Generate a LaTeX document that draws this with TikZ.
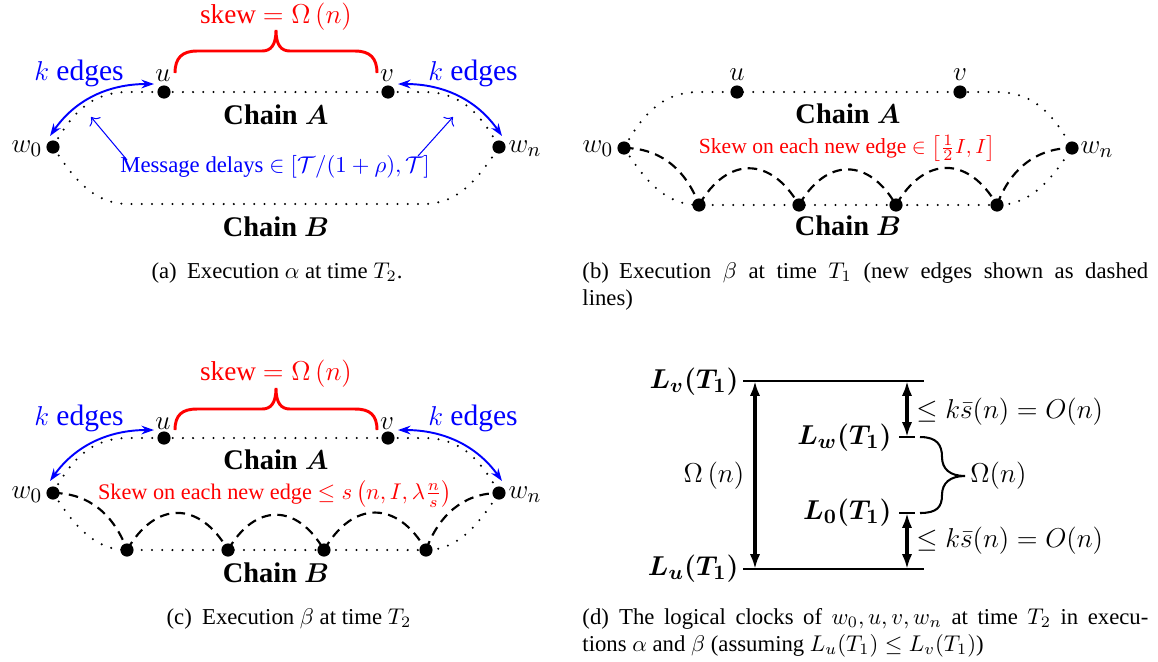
\documentclass[tikz,border=0pt]{standalone}
\usepackage[no-math]{fontspec}
\setmainfont{Liberation Serif}
\usepackage{amsmath,amssymb}
\usetikzlibrary{arrows.meta}
\tikzset{
  vtx/.style={circle,fill=black,inner sep=0pt,minimum size=5.8pt},
  chaindots/.style={line width=1pt,dash pattern=on 0pt off 4.5pt,line cap=round},
  newedge/.style={line width=0.95pt,dash pattern=on 4.2pt off 2.8pt},
  kedge/.style={blue,line width=0.85pt,{Stealth[length=5.5pt,width=3.8pt]}-{Stealth[length=5.5pt,width=3.8pt]}},
  delay/.style={blue,line width=0.45pt,-{To[length=3pt]}},
  bracered/.style={red,line width=1.3pt},
  lbl/.style={inner sep=0pt,font=\fontsize{12.5}{14}\selectfont},
  skewlbl/.style={inner sep=0pt,text=red,font=\fontsize{12}{14}\selectfont},
  klbl/.style={inner sep=0pt,text=blue,font=\fontsize{13}{15}\selectfont},
  chainlbl/.style={inner sep=0pt,font=\fontsize{12.5}{14}\selectfont\bfseries},
  msglbl/.style={inner sep=0pt,font=\fontsize{10}{12}\selectfont},
  redlbl/.style={inner sep=0pt,text=red,font=\fontsize{9.5}{11}\selectfont},
  redlblc/.style={inner sep=0pt,text=red,font=\fontsize{9.8}{11}\selectfont},
  captxt/.style={inner sep=0pt,font=\fontsize{10}{12}\selectfont},
  dlbl/.style={inner sep=0pt,font=\fontsize{13}{15}\selectfont},
  dbold/.style={inner sep=0pt,font=\fontsize{13}{15}\selectfont},
  dline/.style={line width=1pt},
  darrow/.style={line width=1.4pt,{Latex[length=6.5pt,width=4.5pt]}-{Latex[length=6.5pt,width=4.5pt]}},
  dbrace/.style={line width=0.9pt},
}
\begin{document}
\begin{tikzpicture}[x=0.44pt,y=-0.44pt]
\useasboundingbox (0,0) rectangle (1158,661);

%%%%%%%%%%%%%%%% Panel (a)
\coordinate (a-w0) at (53,147);
\coordinate (a-u) at (164,92);
\coordinate (a-v) at (388,92);
\coordinate (a-wn) at (499,147);
\draw[chaindots] (a-w0) .. controls (74,109) and (94,92) .. (129,92) -- (a-u) -- (a-v) -- (423,92) .. controls (458,92) and (478,109) .. (a-wn);
\draw[chaindots] (a-w0) .. controls (74,179) and (94,204) .. (128,204) -- (424,204) .. controls (458,204) and (478,179) .. (a-wn);
\node[vtx] (a-w0d) at (a-w0) {};
\node[vtx] (a-ud) at (a-u) {};
\node[vtx] (a-vd) at (a-v) {};
\node[vtx] (a-wnd) at (a-wn) {};
\node[lbl] (a-w0l) at (27,149) {$w_0$};
\node[lbl] (a-wnl) at (525,149) {$w_n$};
\node[lbl] (a-ul) at (163,76) {$u$};
\node[lbl] (a-vl) at (387,76) {$v$};
\node[chainlbl] (a-ca) at (276,115) {Chain $\boldsymbol{A}$};
\node[chainlbl] (a-cb) at (276,227) {Chain $\boldsymbol{B}$};
\node[skewlbl] (a-skew) at (276,17) {skew $=\Omega\left(n\right)$};
\draw[bracered] (175,73) .. controls (175,58) and (182,51) .. (197,51) -- (262,51) .. controls (271,51) and (276,45) .. (276,30)
  .. controls (276,45) and (281,51) .. (290,51) -- (355,51) .. controls (370,51) and (377,58) .. (377,73);
\node[klbl] (a-kl) at (79,73) {$k$ edges};
\node[klbl] (a-kr) at (473,73) {$k$ edges};
\coordinate (a-ka) at (154,84);
\coordinate (a-kb) at (50,136);
\coordinate (a-kc) at (398,84);
\coordinate (a-kd) at (502,136);
\draw[kedge] (a-ka) .. controls (108,84) and (75,100) .. (a-kb);
\draw[kedge] (a-kc) .. controls (444,84) and (477,100) .. (a-kd);
\node[msglbl,text=blue] (a-msg) at (275,167) {Message delays $\in\left[\mathcal{T}/(1+\rho),\mathcal{T}\right]$};
\coordinate (a-m1) at (127,160);
\coordinate (a-m2) at (91,117);
\coordinate (a-m3) at (418,156);
\coordinate (a-m4) at (453,117);
\draw[delay] (a-m1) -- (a-m2);
\draw[delay] (a-m3) -- (a-m4);
\node[captxt,anchor=base] (a-cap) at (277,278) {(a)\hspace{4.5pt}Execution $\alpha$ at time $T_2$.};

%%%%%%%%%%%%%%%% Panel (b)
\coordinate (b-w0) at (624,148);
\coordinate (b-u) at (737,92);
\coordinate (b-v) at (960,92);
\coordinate (b-wn) at (1072,148);
\coordinate (b-b1) at (699,205);
\coordinate (b-b2) at (799,205);
\coordinate (b-b3) at (896,205);
\coordinate (b-b4) at (997,205);
\draw[chaindots] (b-w0) .. controls (645,110) and (665,92) .. (700,92) -- (b-u) -- (b-v) -- (996,92) .. controls (1031,92) and (1051,110) .. (b-wn);
\draw[chaindots] (b-w0) .. controls (645,180) and (665,205) .. (b-b1) -- (b-b2) -- (b-b3) -- (b-b4) .. controls (1031,205) and (1051,180) .. (b-wn);
\draw[newedge] (b-w0) to[out=0,in=110] (b-b1);
\draw[newedge] (b-b1) to[out=60,in=120,looseness=1.45] (b-b2);
\draw[newedge] (b-b2) to[out=60,in=120,looseness=1.45] (b-b3);
\draw[newedge] (b-b3) to[out=60,in=120,looseness=1.45] (b-b4);
\draw[newedge] (b-b4) to[out=70,in=180] (b-wn);
\foreach \n in {w0,u,v,wn,b1,b2,b3,b4} \node[vtx] (b-\n d) at (b-\n) {};
\node[lbl] (b-w0l) at (598,149) {$w_0$};
\node[lbl] (b-wnl) at (1097,150) {$w_n$};
\node[lbl] (b-ul) at (737,75) {$u$};
\node[lbl] (b-vl) at (960,75) {$v$};
\node[chainlbl] (b-ca) at (848,114) {Chain $\boldsymbol{A}$};
\node[chainlbl] (b-cb) at (848,226) {Chain $\boldsymbol{B}$};
\node[redlbl] (b-skew) at (847,148) {Skew on each new edge $\in\left[\frac{1}{2}I,I\right]$};
\node[captxt,anchor=base west] (b-cap) at (582,278) {\parbox[t]{249pt}{(b)\hspace{4.5pt}Execution $\beta$ at time $T_1$ (new edges shown as dashed\linebreak lines)}};

%%%%%%%%%%%%%%%% Panel (c)
\coordinate (c-w0) at (53,493);
\coordinate (c-u) at (164,438);
\coordinate (c-v) at (388,438);
\coordinate (c-wn) at (499,493);
\coordinate (c-b1) at (127,550);
\coordinate (c-b2) at (228,550);
\coordinate (c-b3) at (324,550);
\coordinate (c-b4) at (426,550);
\draw[chaindots] (c-w0) .. controls (74,455) and (94,438) .. (129,438) -- (c-u) -- (c-v) -- (423,438) .. controls (458,438) and (478,455) .. (c-wn);
\draw[chaindots] (c-w0) .. controls (74,525) and (94,550) .. (c-b1) -- (c-b2) -- (c-b3) -- (c-b4) .. controls (458,550) and (478,525) .. (c-wn);
\draw[newedge] (c-w0) to[out=0,in=110] (c-b1);
\draw[newedge] (c-b1) to[out=60,in=120,looseness=1.45] (c-b2);
\draw[newedge] (c-b2) to[out=60,in=120,looseness=1.45] (c-b3);
\draw[newedge] (c-b3) to[out=60,in=120,looseness=1.45] (c-b4);
\draw[newedge] (c-b4) to[out=70,in=180] (c-wn);
\foreach \n in {w0,u,v,wn,b1,b2,b3,b4} \node[vtx] (c-\n d) at (c-\n) {};
\node[lbl] (c-w0l) at (27,495) {$w_0$};
\node[lbl] (c-wnl) at (525,495) {$w_n$};
\node[lbl] (c-ul) at (163,424) {$u$};
\node[lbl] (c-vl) at (387,424) {$v$};
\node[chainlbl] (c-ca) at (276,460) {Chain $\boldsymbol{A}$};
\node[chainlbl] (c-cb) at (276,573) {Chain $\boldsymbol{B}$};
\node[skewlbl] (c-skew) at (276,374) {skew $=\Omega\left(n\right)$};
\draw[bracered] (175,430) .. controls (175,415) and (182,409) .. (197,409) -- (262,409) .. controls (271,409) and (276,403) .. (276,388)
  .. controls (276,403) and (281,409) .. (290,409) -- (355,409) .. controls (370,409) and (377,415) .. (377,430);
\node[klbl] (c-kl) at (79,418) {$k$ edges};
\node[klbl] (c-kr) at (473,418) {$k$ edges};
\coordinate (c-ka) at (154,430);
\coordinate (c-kb) at (50,481);
\coordinate (c-kc) at (398,430);
\coordinate (c-kd) at (502,481);
\draw[kedge] (c-ka) .. controls (108,430) and (75,446) .. (c-kb);
\draw[kedge] (c-kc) .. controls (444,430) and (477,446) .. (c-kd);
\node[redlblc] (c-skewe) at (275,494) {Skew on each new edge $\leq s\left(n,I,\lambda\frac{n}{s}\right)$};
\node[captxt,anchor=base] (c-cap) at (289,624) {(c)\hspace{4.5pt}Execution $\beta$ at time $T_2$};

%%%%%%%%%%%%%%%% Panel (d)
\coordinate (d-tl) at (743,381);
\coordinate (d-tr) at (924,381);
\coordinate (d-bl) at (743,569);
\coordinate (d-br) at (924,569);
\draw[dline] (d-tl) -- (d-tr);
\draw[dline] (d-bl) -- (d-br);
\coordinate (d-at) at (755,381);
\coordinate (d-ab) at (755,569);
\draw[darrow] (d-at) -- (d-ab);
\coordinate (d-w1) at (899,437);
\coordinate (d-w2) at (915,437);
\coordinate (d-z1) at (899,513);
\coordinate (d-z2) at (915,513);
\draw[dline] (d-w1) -- (d-w2);
\draw[dline] (d-z1) -- (d-z2);
\coordinate (d-s1) at (907,381);
\coordinate (d-s2) at (907,437);
\coordinate (d-s3) at (907,513);
\coordinate (d-s4) at (907,569);
\draw[darrow] (d-s1) -- (d-s2);
\draw[darrow] (d-s3) -- (d-s4);
\coordinate (d-b1) at (920,437);
\coordinate (d-bt) at (965,476);
\coordinate (d-b2) at (920,513);
\draw[dbrace] (d-b1) .. controls (937,437) and (942,445) .. (942,457) .. controls (942,469) and (950,476) .. (d-bt)
  .. controls (950,476) and (942,483) .. (942,495) .. controls (942,507) and (937,513) .. (d-b2);
\node[dbold,anchor=east] (d-Lv) at (739,382) {$\boldsymbol{L_v(T_1)}$};
\node[dbold,anchor=east] (d-Lu) at (739,569) {$\boldsymbol{L_u(T_1)}$};
\node[dbold,anchor=east] (d-Lw) at (892,438) {$\boldsymbol{L_w(T_1)}$};
\node[dbold,anchor=east] (d-L0) at (892,513) {$\boldsymbol{L_0(T_1)}$};
\node[dlbl] (d-om) at (714,476) {$\Omega\left(n\right)$};
\node[dlbl,anchor=west] (d-up) at (916,412) {$\leq k\bar{s}(n)=O(n)$};
\node[dlbl,anchor=west] (d-lo) at (916,541) {$\leq k\bar{s}(n)=O(n)$};
\node[dlbl,anchor=west] (d-om2) at (970,476) {$\Omega(n)$};
\node[captxt,anchor=base west] (d-cap) at (582,624) {\parbox[t]{249pt}{(d)\hspace{4.5pt}The logical clocks of $w_0,u,v,w_n$ at time $T_2$ in execu-\linebreak tions $\alpha$ and $\beta$ (assuming $L_u(T_1)\leq L_v(T_1)$)}};
\end{tikzpicture}
\end{document}
